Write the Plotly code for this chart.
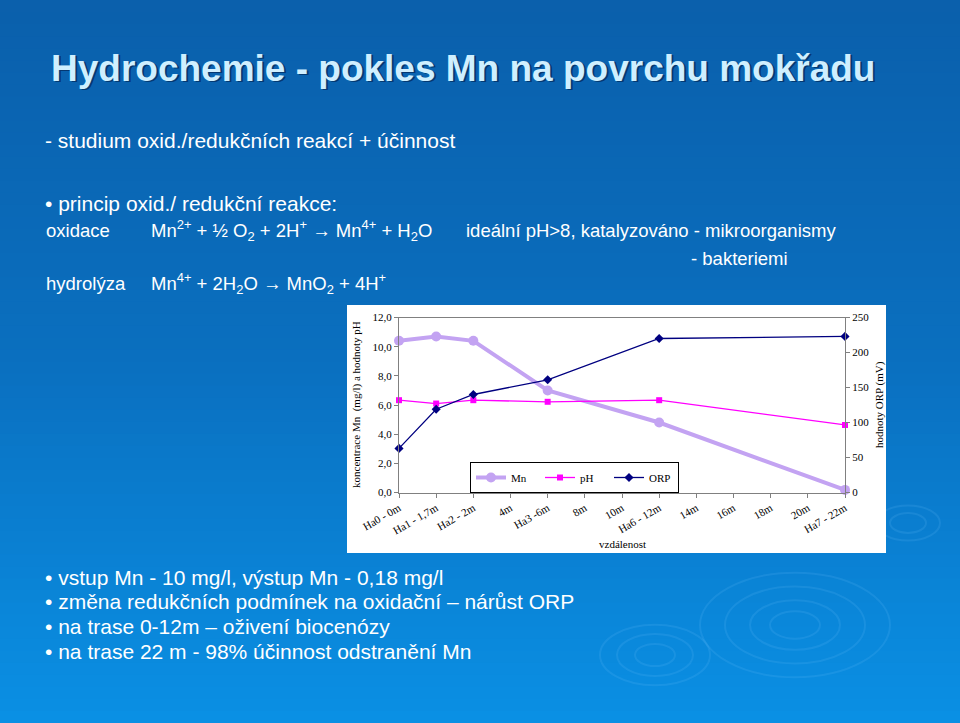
import plotly.graph_objects as go

W, H = 960, 723

# ---------------- data ----------------
categories = ["Ha0 - 0m", "Ha1 - 1,7m", "Ha2 - 2m", "4m", "Ha3 -6m", "8m", "10m",
              "Ha6 - 12m", "14m", "16m", "18m", "20m", "Ha7 - 22m"]
samples = ["Ha0 - 0m", "Ha1 - 1,7m", "Ha2 - 2m", "Ha3 -6m", "Ha6 - 12m", "Ha7 - 22m"]
mn = [10.4, 10.7, 10.4, 7.0, 4.8, 0.18]
ph = [6.33, 6.1, 6.33, 6.22, 6.33, 4.63]
orp = [63, 119, 140, 161, 220, 223]

left_ticks = [0, 2, 4, 6, 8, 10, 12]
right_ticks = [0, 50, 100, 150, 200, 250]


def fx(x):
    return x / W


def fy(y):
    return 1 - y / H


SERIF = "Liberation Serif"
SANS = "Liberation Sans"

fig = go.Figure()

fig.add_trace(go.Scatter(
    x=samples, y=mn, name="Mn", mode="lines+markers",
    line=dict(color="#C3A3F2", width=4),
    marker=dict(symbol="circle", size=10, color="#C3A3F2"),
    cliponaxis=False, yaxis="y"))
fig.add_trace(go.Scatter(
    x=samples, y=ph, name="pH", mode="lines+markers",
    line=dict(color="#FF00FF", width=1.3),
    marker=dict(symbol="square", size=6, color="#FF00FF"),
    cliponaxis=False, yaxis="y"))
fig.add_trace(go.Scatter(
    x=samples, y=orp, name="ORP", mode="lines+markers",
    line=dict(color="#000080", width=1.3),
    marker=dict(symbol="diamond", size=7, color="#000080"),
    cliponaxis=False, yaxis="y2"))

# ---------------- background ----------------
shapes = []
N = 60
top = (11, 96, 172)
mid = (10, 112, 192)
bot = (10, 144, 228)
for i in range(N):
    t = i / (N - 1)
    if t < 0.5:
        a, b, u = top, mid, t / 0.5
    else:
        a, b, u = mid, bot, (t - 0.5) / 0.5
    c = tuple(int(a[k] + (b[k] - a[k]) * u) for k in range(3))
    shapes.append(dict(type="rect", xref="paper", yref="paper", layer="below",
                       x0=0, x1=1, y0=1 - (i + 1) / N - 0.002, y1=1 - i / N,
                       fillcolor="rgb(%d,%d,%d)" % c, line=dict(width=0)))
# subtle ripples bottom right
for (cx, cy, r) in [(795, 625, 25), (795, 625, 45), (795, 625, 70), (795, 625, 95),
                    (655, 655, 20), (655, 655, 38), (655, 655, 55),
                    (908, 523, 18), (908, 523, 32)]:
    shapes.append(dict(type="circle", xref="paper", yref="paper", layer="below",
                       x0=fx(cx - r), x1=fx(cx + r), y0=fy(cy + r * 0.55), y1=fy(cy - r * 0.55),
                       line=dict(color="rgba(120,200,255,0.14)", width=2)))
# white chart box
shapes.append(dict(type="rect", xref="paper", yref="paper", layer="below",
                   x0=fx(347), x1=fx(886), y0=fy(553), y1=fy(305),
                   fillcolor="white", line=dict(width=0)))

# ---------------- text ----------------
ann = []


def text(x, y, s, size=21, color="white", font=SANS, shadow=False, bold=False):
    if bold:
        s = "<b>" + s + "</b>"
    if shadow:
        ann.append(dict(x=fx(x + 2), y=fy(y + 2), xref="paper", yref="paper", text=s,
                        showarrow=False, xanchor="left", yanchor="middle",
                        font=dict(family=font, size=size, color="rgba(0,20,60,0.55)")))
    ann.append(dict(x=fx(x), y=fy(y), xref="paper", yref="paper", text=s,
                    showarrow=False, xanchor="left", yanchor="middle",
                    font=dict(family=font, size=size, color=color)))


S2 = 18.5
text(49, 68, "Hydrochemie - pokles Mn na povrchu mokřadu", size=37, color="#CFEFFF",
     bold=True, shadow=True)
text(43, 141, "- studium oxid./redukčních reakcí + účinnost")
text(43, 203, "• princip oxid./ redukční reakce:")
text(44, 231, "oxidace", size=S2)
text(149, 231, "Mn<sup>2+</sup> + ½ O<sub>2</sub> + 2H<sup>+</sup> → Mn<sup>4+</sup> + H<sub>2</sub>O", size=S2)
text(464, 231, "ideální pH>8, katalyzováno - mikroorganismy", size=S2)
text(689, 258, "- bakteriemi", size=S2)
text(44, 284, "hydrolýza", size=S2)
text(149, 284, "Mn<sup>4+</sup> + 2H<sub>2</sub>O → MnO<sub>2</sub> + 4H<sup>+</sup>", size=S2)
text(43, 577, "• vstup Mn - 10 mg/l, výstup Mn - 0,18 mg/l")
text(43, 601, "• změna redukčních podmínek na oxidační – nárůst ORP")
text(43, 626, "• na trase 0-12m – oživení biocenózy")
text(43, 651, "• na trase 22 m - 98% účinnost odstranění Mn")

# axis titles
ann.append(dict(x=fx(356), y=fy(405), xref="paper", yref="paper", textangle=-90,
                xanchor="center", yanchor="middle",
                text="koncentrace Mn  (mg/l) a hodnoty pH", showarrow=False,
                font=dict(family=SERIF, size=11, color="black")))
ann.append(dict(x=fx(879), y=fy(405), xref="paper", yref="paper", textangle=-90,
                xanchor="center", yanchor="middle",
                text="hodnoty ORP (mV)", showarrow=False,
                font=dict(family=SERIF, size=11, color="black")))
ann.append(dict(x=fx(622), y=fy(544), xref="paper", yref="paper",
                xanchor="center", yanchor="middle",
                text="vzdálenost", showarrow=False,
                font=dict(family=SERIF, size=11, color="black")))

axis_font = dict(family=SERIF, size=11, color="black")

fig.update_layout(
    width=W, height=H,
    margin=dict(l=0, r=0, t=0, b=0, autoexpand=False),
    paper_bgcolor="#0b60ac",
    plot_bgcolor="white",
    separators=",.",
    shapes=shapes,
    annotations=ann,
    showlegend=True,
    legend=dict(orientation="h", x=fx(470), y=fy(462), xanchor="left", yanchor="top",
                bgcolor="white", bordercolor="black", borderwidth=1,
                font=dict(family=SERIF, size=11, color="black"),
                entrywidth=24, itemwidth=30, tracegroupgap=0),
    xaxis=dict(domain=[fx(399), fx(845)], type="category", categoryorder="array",
               categoryarray=categories, range=[0, 12], showgrid=False,
               showline=True, linecolor="#808080", linewidth=1, mirror=True,
               ticks="outside", ticklen=4, tickcolor="#808080", tickangle=-30,
               tickfont=axis_font, zeroline=False),
    yaxis=dict(domain=[fy(492.5), fy(317.5)], range=[0, 12], tickvals=left_ticks,
               tickformat=".1f", showgrid=False, showline=True, linecolor="#808080",
               linewidth=1, mirror=True, ticks="outside", ticklen=4, tickcolor="#808080",
               tickfont=axis_font, zeroline=False),
    yaxis2=dict(overlaying="y", side="right", anchor="x", range=[0, 250],
                tickvals=right_ticks, showgrid=False, showline=False,
                ticks="outside", ticklen=4, tickcolor="#808080",
                tickfont=axis_font, zeroline=False),
)

fig.write_html("out.html")
